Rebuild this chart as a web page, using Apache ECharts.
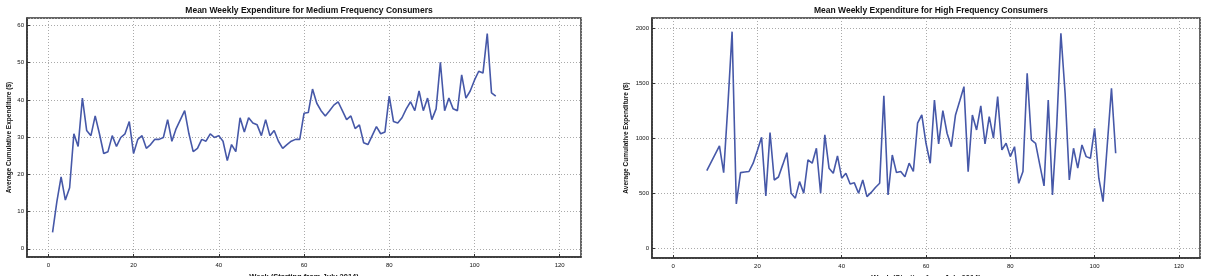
<!DOCTYPE html>
<html><head><meta charset="utf-8">
<script src="https://cdn.jsdelivr.net/npm/echarts@6/dist/echarts.min.js"></script>
<style>html,body{margin:0;padding:0;background:#fff}#c{width:1209px;height:276px}</style>
</head><body><div id="c"></div>
<script>
const titles = ['Mean Weekly Expenditure for Medium Frequency Consumers', 'Mean Weekly Expenditure for High Frequency Consumers'];
const xName = 'Week (Starting from July 2014)';
const yName = 'Average Cumulative Expenditure ($)';

const mediumWeeks = [];
for (let w = 1; w <= 105; w++) mediumWeeks.push(w);
const mediumValues = [4.4,12.6,19.3,13.1,16.4,30.9,27.5,40.5,31.8,30.4,35.7,30.9,25.6,26.1,30.4,27.5,29.9,30.9,34.2,25.6,
29.4,30.4,27,28,29.4,29.4,29.9,34.7,28.9,32.3,34.7,37.1,30.9,26.1,27,29.4,28.9,30.9,29.9,30.4,
28.9,23.7,28,26.1,35.2,31.4,35.2,33.8,33.3,30.4,34.7,30.4,31.8,28.9,27,28,28.9,29.4,29.4,36.4,
36.6,42.9,39.1,37.1,35.7,37.1,38.6,39.5,37.1,34.7,35.7,32.3,33.3,28.5,28,30.4,32.8,30.9,31.4,41,
34.2,33.8,35.2,37.6,39.5,37.1,42.4,37.1,40.5,34.7,37.6,50.1,37.1,40.5,37.6,37.1,46.7,40.5,42.4,45.3,
47.7,47.2,57.8,41.9,41];

const highWeeks = [];
for (let w = 8; w <= 105; w++) highWeeks.push(w);
const highValues = [708,783,858,932,690,1300,1969,406,690,695,700,775,890,1011,478,1053,623,650,760,871,
503,458,608,503,805,775,911,503,1032,730,684,841,639,684,587,597,503,623,472,510,
555,593,1386,487,850,690,700,653,775,700,1138,1213,956,775,1349,950,1252,1047,925,1213,
1340,1470,699,1213,1077,1295,950,1198,1002,1379,896,956,835,925,593,700,1592,986,956,760,
569,1349,487,1107,1955,1410,623,911,730,941,835,820,1092,639,427,940,1455,866];

const lineColor = '#4658a8';
const textColor = '#111';
const fontFamily = 'Liberation Sans, Arial, sans-serif';

function pairs(xs, ys) { return xs.map((x, i) => [x, ys[i]]); }

function xAxis(gi) {
  return {
    type: 'value', gridIndex: gi, min: -5, max: 125, splitNumber: 6,
    name: xName, nameLocation: 'middle', nameGap: 12,
    nameTextStyle: { fontSize: 7.5, fontWeight: 'bold', color: textColor, fontFamily },
    axisLine: { show: true, onZero: false, lineStyle: { color: '#333', width: 1.5 } },
    axisTick: { show: true, inside: true, length: 3, lineStyle: { color: '#333' } },
    axisLabel: { fontSize: 6, color: textColor, margin: 5, showMinLabel: false, showMaxLabel: false, fontFamily,
      formatter: v => String(v) },
    splitLine: { show: true, lineStyle: { color: '#aaa', type: [1, 2], width: 1 } }
  };
}
function yAxis(gi, min, max, split) {
  return {
    type: 'value', gridIndex: gi, min, max, splitNumber: split,
    name: yName, nameLocation: 'middle', nameGap: gi === 0 ? 14 : 22,
    nameTextStyle: { fontSize: 6.5, fontWeight: 'bold', color: textColor, fontFamily },
    axisLine: { show: true, onZero: false, lineStyle: { color: '#333', width: 1.5 } },
    axisTick: { show: true, inside: true, length: 3, lineStyle: { color: '#333' } },
    axisLabel: { fontSize: 6, color: textColor, margin: 3, showMinLabel: false, showMaxLabel: false, fontFamily,
      formatter: v => String(v) },
    splitLine: { show: true, lineStyle: { color: '#aaa', type: [1, 2], width: 1 } }
  };
}

const chart = echarts.init(document.getElementById('c'), null, { renderer: 'canvas' });
chart.setOption({
  animation: false,
  backgroundColor: '#fff',
  title: [
    { text: titles[0], left: 304, top: 1, textAlign: 'center', textStyle: { fontSize: 8.5, fontWeight: 'bold', color: '#111', fontFamily } },
    { text: titles[1], left: 926, top: 1, textAlign: 'center', textStyle: { fontSize: 8.5, fontWeight: 'bold', color: '#111', fontFamily } }
  ],
  grid: [
    { left: 27, top: 18, width: 554, height: 239, show: true, borderColor: '#333', borderWidth: 1.5, backgroundColor: 'transparent',
      containLabel: false, outerBoundsMode: 'none' },
    { left: 652, top: 18, width: 548, height: 240, show: true, borderColor: '#333', borderWidth: 1.5, backgroundColor: 'transparent',
      containLabel: false, outerBoundsMode: 'none' }
  ],
  xAxis: [xAxis(0), xAxis(1)],
  yAxis: [yAxis(0, -2.2, 62, 6), yAxis(1, -85, 2093, 5)],
  series: [
    { type: 'line', xAxisIndex: 0, yAxisIndex: 0, data: pairs(mediumWeeks, mediumValues), showSymbol: false,
      lineStyle: { color: lineColor, width: 1.6 } },
    { type: 'line', xAxisIndex: 1, yAxisIndex: 1, data: pairs(highWeeks, highValues), showSymbol: false,
      lineStyle: { color: lineColor, width: 1.6 } }
  ]
});
</script></body></html>
